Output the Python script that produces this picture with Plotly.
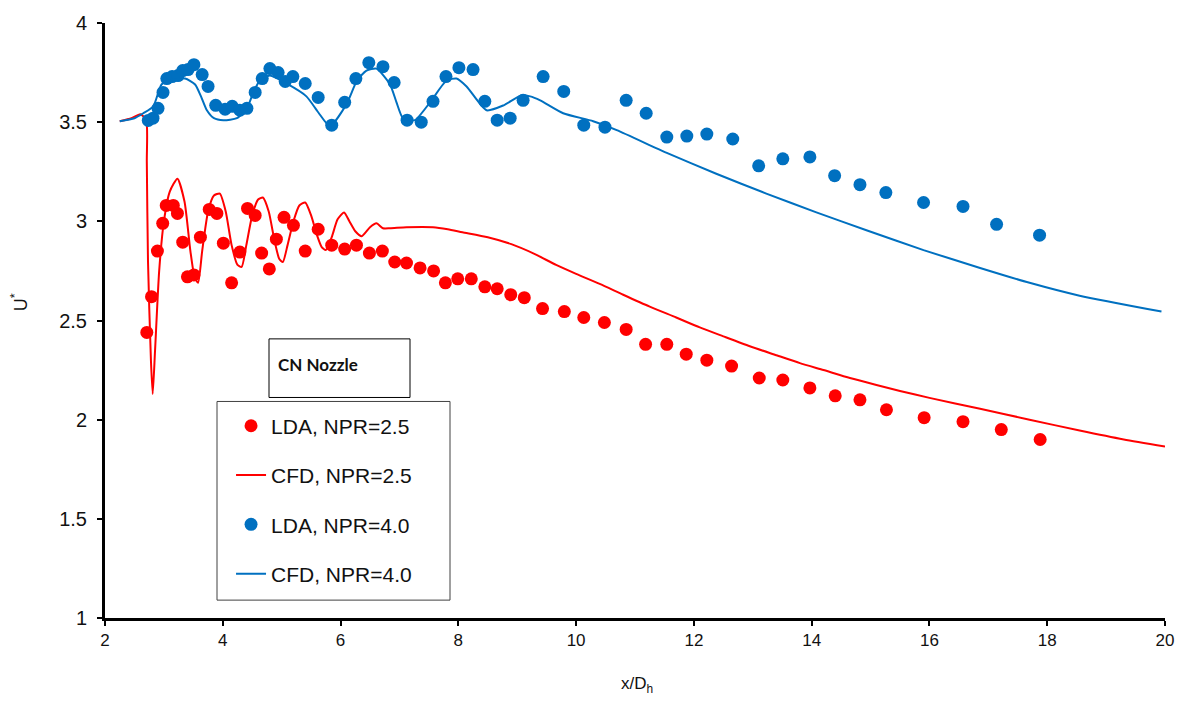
import plotly.graph_objects as go

# ---- data ----
lda25_x = [2.71, 2.79, 2.89, 2.98, 3.04, 3.16, 3.23, 3.32, 3.40, 3.51, 3.62, 3.77, 3.90, 4.01, 4.15,
           4.29, 4.42, 4.55, 4.66, 4.79, 4.91, 5.04, 5.20, 5.40, 5.62, 5.85, 6.07, 6.27, 6.49, 6.71,
           6.92, 7.12, 7.35, 7.58, 7.78, 7.99, 8.22, 8.45, 8.66, 8.89, 9.12, 9.43, 9.80, 10.13, 10.48,
           10.85, 11.18, 11.54, 11.87, 12.22, 12.64, 13.11, 13.51, 13.97, 14.40, 14.82, 15.27, 15.91,
           16.57, 17.22, 17.88]
lda25_y = [2.44, 2.62, 2.85, 2.99, 3.08, 3.08, 3.04, 2.895, 2.72, 2.73, 2.92, 3.06, 3.04, 2.89, 2.69,
           2.845, 3.065, 3.03, 2.84, 2.76, 2.91, 3.02, 2.98, 2.85, 2.96, 2.88, 2.86, 2.88, 2.84, 2.85,
           2.795, 2.79, 2.765, 2.75, 2.69, 2.71, 2.71, 2.67, 2.66, 2.63, 2.615, 2.56, 2.545, 2.515, 2.49,
           2.455, 2.38, 2.38, 2.33, 2.30, 2.27, 2.21, 2.20, 2.16, 2.12, 2.10, 2.05, 2.01,
           1.99, 1.95, 1.90]

cfd25_x = [2.25, 2.45, 2.6, 2.70, 2.71, 2.73, 2.78, 2.81, 2.85, 2.92, 3.0, 3.1, 3.23, 3.35, 3.45, 3.52,
           3.58, 3.65, 3.75, 3.85, 3.95, 4.05, 4.15, 4.25, 4.32, 4.4, 4.5, 4.6, 4.68, 4.78, 4.88, 4.96,
           5.02, 5.1, 5.2, 5.3, 5.4, 5.5, 5.6, 5.68, 5.75, 5.85, 5.95, 6.06, 6.15, 6.25, 6.36, 6.5,
           6.61, 6.72, 6.84, 7.12, 7.57, 7.82, 8.07, 8.5, 8.9, 9.3, 9.66, 10.0, 10.4, 10.8, 11.25,
           11.7, 12.1, 12.5, 12.95, 13.4, 13.8, 14.2, 14.65, 15.1, 15.5, 16.0, 16.86, 17.7, 18.55,
           19.3, 20.0]
cfd25_y = [3.505, 3.52, 3.54, 3.51, 3.3, 2.8, 2.3, 2.13, 2.35, 2.75, 3.0, 3.15, 3.215, 3.1, 2.85, 2.72,
           2.69, 2.85, 3.05, 3.13, 3.14, 3.05, 2.88, 2.78, 2.77, 2.88, 3.03, 3.11, 3.12, 3.05, 2.9, 2.81,
           2.795, 2.88, 3.0, 3.08, 3.095, 3.03, 2.93, 2.87, 2.855, 2.92, 3.01, 3.045, 3.0, 2.95, 2.925, 2.97,
           2.99, 2.965, 2.965, 2.97, 2.97, 2.96, 2.945, 2.92, 2.885, 2.835, 2.78, 2.735, 2.685, 2.63, 2.57,
           2.515, 2.465, 2.42, 2.37, 2.325, 2.285, 2.25, 2.21, 2.175, 2.145, 2.11, 2.055, 2.0, 1.945,
           1.9, 1.865]

lda40_x = [2.735, 2.815, 2.90, 2.985, 3.05, 3.14, 3.24, 3.32, 3.41, 3.51, 3.65, 3.75, 3.88, 4.04, 4.16,
           4.29, 4.41, 4.55, 4.67, 4.80, 4.94, 5.06, 5.19, 5.40, 5.62, 5.85, 6.07, 6.26, 6.48, 6.72,
           6.91, 7.13, 7.37, 7.57, 7.79, 8.01, 8.25, 8.45, 8.66, 8.88, 9.10, 9.44, 9.79, 10.13, 10.49,
           10.85, 11.19, 11.54, 11.88, 12.22, 12.66, 13.10, 13.51, 13.97, 14.39, 14.82, 15.26, 15.90,
           16.57, 17.14, 17.87]
lda40_y = [3.509, 3.52, 3.57, 3.65, 3.72, 3.73, 3.735, 3.76, 3.765, 3.79, 3.74, 3.68, 3.585, 3.565, 3.58,
           3.56, 3.57, 3.65, 3.72, 3.77, 3.75, 3.705, 3.73, 3.695, 3.625, 3.485, 3.60, 3.72, 3.80, 3.78,
           3.70, 3.51, 3.50, 3.605, 3.73, 3.775, 3.765, 3.605, 3.51, 3.52, 3.61, 3.73, 3.655, 3.485, 3.475,
           3.61, 3.545, 3.425, 3.43, 3.44, 3.415, 3.28, 3.315, 3.325, 3.23, 3.185, 3.145, 3.095,
           3.075, 2.985, 2.93]

cfd40_x = [2.25, 2.5, 2.65, 2.82, 2.96, 3.10, 3.36, 3.53, 3.63, 3.73, 3.85, 4.01, 4.24, 4.41, 4.52,
           4.63, 4.80, 5.08, 5.42, 5.62, 5.82, 6.10, 6.28, 6.44, 6.61, 6.84, 6.95, 7.06, 7.26, 7.52,
           7.80, 7.97, 8.14, 8.48, 8.77, 9.07, 9.22, 9.39, 9.78, 10.29, 10.69, 11.54, 12.38, 13.23,
           14.08, 14.93, 15.9, 16.86, 17.7, 18.55, 19.94]
cfd40_y = [3.505, 3.52, 3.545, 3.58, 3.69, 3.71, 3.72, 3.69, 3.63, 3.56, 3.52, 3.51, 3.52, 3.57, 3.65,
           3.71, 3.735, 3.695, 3.63, 3.55, 3.48, 3.59, 3.71, 3.76, 3.77, 3.69, 3.6, 3.52, 3.51, 3.60,
           3.71, 3.72, 3.68, 3.56, 3.585, 3.635, 3.63, 3.61, 3.545, 3.505, 3.46, 3.345, 3.24, 3.14,
           3.045, 2.955, 2.855, 2.765, 2.69, 2.625, 2.545]

x_ticks = [2, 4, 6, 8, 10, 12, 14, 16, 18, 20]
y_ticks = [1, 1.5, 2, 2.5, 3, 3.5, 4]
y_ticklabels = ["1", "1.5", "2", "2.5", "3", "3.5", "4"]

RED = "#FF0000"
BLUE = "#0070C0"

fig = go.Figure()
fig.add_trace(go.Scatter(x=lda25_x, y=lda25_y, mode="markers", name="LDA, NPR=2.5",
                         marker=dict(color=RED, size=13), legendgroup="a"))
fig.add_trace(go.Scatter(x=cfd25_x, y=cfd25_y, mode="lines", name="CFD, NPR=2.5",
                         line=dict(color=RED, width=2, shape="spline", smoothing=0.6), legendgroup="b"))
fig.add_trace(go.Scatter(x=lda40_x, y=lda40_y, mode="markers", name="LDA, NPR=4.0",
                         marker=dict(color=BLUE, size=13), legendgroup="c"))
fig.add_trace(go.Scatter(x=cfd40_x, y=cfd40_y, mode="lines", name="CFD, NPR=4.0",
                         line=dict(color=BLUE, width=2, shape="spline", smoothing=0.6), legendgroup="d"))

axis_font = dict(family="Liberation Sans, Arial, sans-serif", size=20, color="#111")

fig.update_layout(
    width=1186, height=704,
    margin=dict(l=105, r=21, t=19, b=86),
    plot_bgcolor="white", paper_bgcolor="white",
    showlegend=True,
    legend=dict(
        x=0.1057, y=0.357, xanchor="left", yanchor="top",
        bgcolor="rgba(0,0,0,0)", borderwidth=0,
        font=dict(family="Liberation Sans, Arial, sans-serif", size=21, color="#111"),
        tracegroupgap=19, indentation=14,
    ),
    xaxis=dict(range=[2, 20], tickvals=x_ticks, showgrid=False, zeroline=False,
               showline=True, linecolor="black", linewidth=3,
               ticks="outside", ticklen=5, tickwidth=2, tickcolor="black",
               tickfont=dict(family="Liberation Sans, Arial, sans-serif", size=17, color="#111")),
    yaxis=dict(range=[1, 4], tickvals=y_ticks, ticktext=y_ticklabels, showgrid=False, zeroline=False,
               showline=True, linecolor="black", linewidth=3,
               ticks="outside", ticklen=5, tickwidth=2, tickcolor="black",
               tickfont=axis_font, ticklabelstandoff=6),
)

fig.add_annotation(text="x/D<sub>h</sub>", xref="paper", yref="paper", x=0.502, y=-0.112,
                   showarrow=False, xanchor="center", yanchor="middle",
                   font=dict(family="Liberation Sans, Arial, sans-serif", size=17, color="#111"))
fig.add_annotation(text="U<sup>*</sup>", xref="paper", yref="paper", x=-0.081, y=0.531,
                   showarrow=False, textangle=-90, xanchor="center", yanchor="middle",
                   font=dict(family="Liberation Sans, Arial, sans-serif", size=18, color="#111"))

# legend frame (drawn as a shape so its size matches the reference)
fig.add_shape(type="rect", xref="paper", yref="paper", layer="above",
              x0=(217 - 105) / 1060, x1=(450 - 105) / 1060,
              y0=(618 - 600) / 599, y1=(618 - 400) / 599,
              line=dict(color="#404040", width=1), fillcolor="rgba(0,0,0,0)")
fig.add_shape(type="rect", xref="paper", yref="paper", layer="below",
              x0=(217 - 105) / 1060, x1=(450 - 105) / 1060,
              y0=(618 - 600) / 599, y1=(618 - 400) / 599,
              line=dict(width=0), fillcolor="white")

# "CN Nozzle" label box
fig.add_shape(type="rect", xref="paper", yref="paper",
              x0=(269 - 105) / 1060, x1=(410 - 105) / 1060,
              y0=(618 - 396) / 599, y1=(618 - 337) / 599,
              line=dict(color="black", width=1), fillcolor="white")
fig.add_annotation(text="<b>CN Nozzle</b>", xref="paper", yref="paper",
                   x=(276 - 105) / 1060, y=(618 - 363) / 599, xanchor="left", yanchor="middle",
                   showarrow=False,
                   font=dict(family="Lato, Open Sans, sans-serif", size=17, color="#111"))

fig.write_html("out.html")
